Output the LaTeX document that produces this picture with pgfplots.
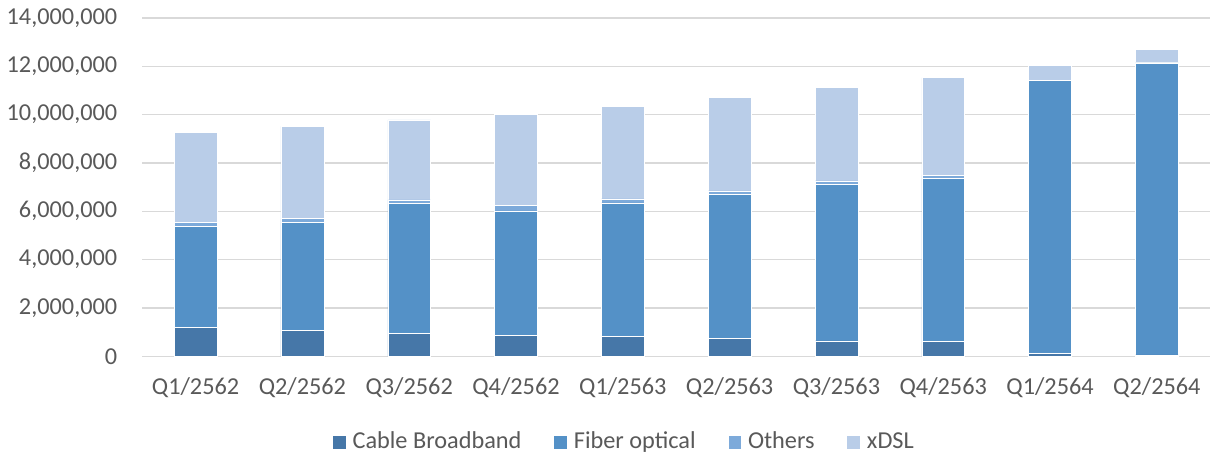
\documentclass[border=0pt]{standalone}
\usepackage{fontspec}
\setmainfont{Carlito}
\usepackage{pgfplots}
\pgfplotsset{compat=1.18}
\usepackage{pgfplotstable}

\definecolor{cable}{HTML}{4677A8}
\definecolor{fiber}{HTML}{5491C7}
\definecolor{others}{HTML}{7DAADA}
\definecolor{xdsl}{HTML}{B9CDE8}
\definecolor{gridgray}{HTML}{D9D9D9}
\definecolor{txtgray}{HTML}{595959}

% values per quarter
\pgfplotstableread{
x cable fiber others xdsl
0 1190000 4180000 170000 3730000
1 1070000 4470000 160000 3810000
2 950000 5370000 150000 3310000
3 860000 5160000 220000 3760000
4 810000 5540000 160000 3820000
5 740000 5950000 150000 3860000
6 640000 6460000 160000 3860000
7 620000 6730000 150000 4030000
8 110000 11290000 20000 610000
9 60000 12080000 20000 540000
}\datatable

\begin{document}
\begin{tikzpicture}
\begin{axis}[
    scale only axis,
    width=536.5pt, height=170pt,
    ybar stacked,
    bar width=21.5pt,
    xmin=-0.5, xmax=9.5,
    ymin=0, ymax=14000000,
    ytick={0,2000000,...,14000000},
    xtick=data,
    xticklabels={Q1/2562,Q2/2562,Q3/2562,Q4/2562,Q1/2563,Q2/2563,Q3/2563,Q4/2563,Q1/2564,Q2/2564},
    scaled y ticks=false,
    /pgf/number format/fixed,
    /pgf/number format/1000 sep={,},
    /pgf/number format/assume math mode=true,
    major tick length=0pt,
    ymajorgrids,
    grid style={gridgray, line width=0.75pt},
    axis x line*=bottom,
    axis y line*=left,
    x axis line style={gridgray, line width=0.75pt, -},
    y axis line style={draw=none},
    tick label style={font=\fontsize{12.2}{14}\selectfont, text=txtgray},
    yticklabel style={xshift=-9pt},
    xticklabel style={yshift=-7pt},
    legend style={
        at={(0.452,-0.253)}, anchor=center,
        draw=none, legend columns=4,
        font=\fontsize{12.2}{14}\selectfont, text=txtgray,
        /tikz/every even column/.append style={column sep=14pt},
        /tikz/every odd column/.append style={column sep=1pt},
    },
    legend image code/.code={\fill[#1] (0pt,-3.5pt) rectangle (7pt,3.5pt);},
    clip=false,
]
\addplot[fill=cable, draw=white, line width=0.3pt] table[x=x, y=cable] {\datatable};
\addplot[fill=fiber, draw=white, line width=0.3pt] table[x=x, y=fiber] {\datatable};
\addplot[fill=others, draw=white, line width=0.3pt] table[x=x, y=others] {\datatable};
\addplot[fill=xdsl, draw=white, line width=0.3pt] table[x=x, y=xdsl] {\datatable};
\legend{Cable Broadband, Fiber optical, Others, xDSL}
\end{axis}
\path (current axis.south west) ++(-69pt,-49pt) coordinate (bbsw);
\path (current axis.north east) ++(0pt,9pt) coordinate (bbne);
\path[use as bounding box] (bbsw) rectangle (bbne);
\end{tikzpicture}
\end{document}
